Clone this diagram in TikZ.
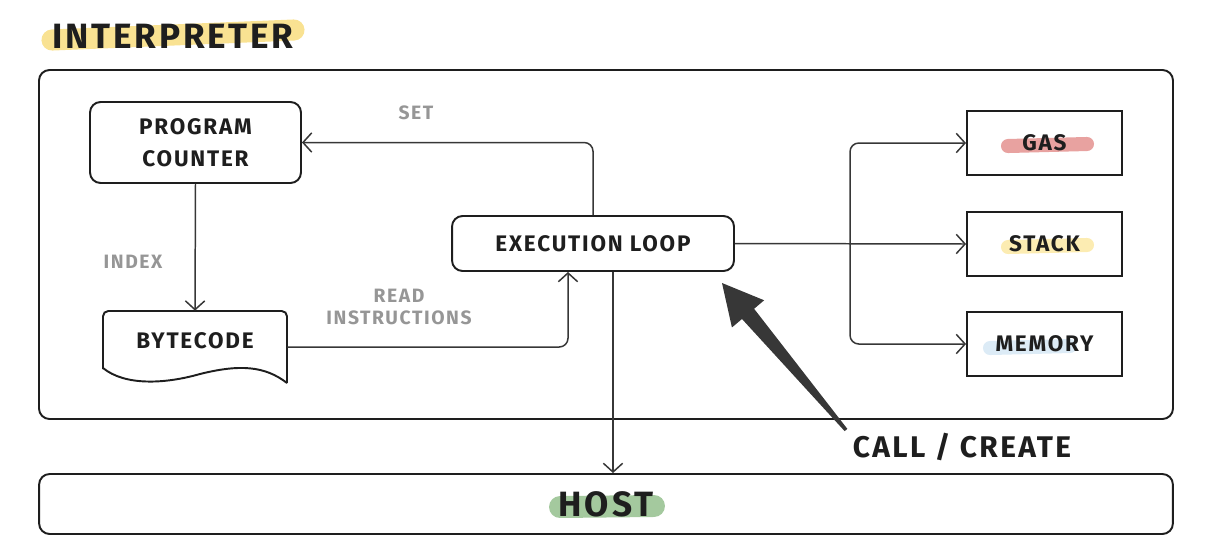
\documentclass[tikz,border=0pt]{standalone}
\usepackage{fontspec}
\usetikzlibrary{arrows.meta,calc}
\newfontfamily\handfont{Fira Sans}[LetterSpace=8]
\definecolor{inkdark}{RGB}{30,30,30}
\definecolor{linegray}{RGB}{55,55,55}
\definecolor{labelgray}{RGB}{150,150,150}
\definecolor{hlyellow}{RGB}{249,226,146}
\definecolor{hlyellowlight}{RGB}{252,236,178}
\definecolor{hlred}{RGB}{232,162,160}
\definecolor{hlblue}{RGB}{220,235,246}
\definecolor{hlgreen}{RGB}{164,201,158}
\tikzset{
  roundbox/.style={draw=inkdark, line width=1.1pt, rounded corners=6pt, align=center, inner sep=0pt},
  plainbox/.style={draw=inkdark, line width=1.1pt, inner sep=0pt, minimum width=3.1cm, minimum height=1.28cm},
  link/.style={draw=linegray, line width=0.85pt, -{Straight Barb[length=5pt,width=11pt]}},
  note/.style={text=labelgray, align=center, font=\handfont\bfseries\fontsize{11}{13}\selectfont},
  hl/.style={line width=#1, line cap=round}
}
\begin{document}
\begin{tikzpicture}[x=0.02cm, y=-0.02cm, font=\handfont\bfseries\fontsize{12.8}{18}\selectfont, text=inkdark]
    \useasboundingbox (0,0) rectangle (1210,555);
    % highlights
    \draw[hl=12pt, hlyellow] (52,40) -- (294,30);
    \draw[hl=8pt, hlred] (1008,146) -- (1087,144);
    \draw[hl=8pt, hlyellowlight] (1008,247) -- (1087,245);
    \draw[hl=8pt, hlblue] (990,348) -- (1070,346);
    \draw[hl=12.5pt, hlgreen] (560,507) -- (654,506);
    % title and frame
    \node (title) at (173,36) {\fontsize{20}{22}\selectfont INTERPRETER};
    \draw[draw=inkdark, line width=1.1pt, rounded corners=6pt] (39,70) rectangle (1173,419);
    % nodes
    \node[roundbox, minimum width=4.22cm, minimum height=1.62cm] (pc) at (195.5,142.5) {PROGRAM\\COUNTER};
    \node[inner sep=0pt, minimum width=3.68cm, minimum height=1.2cm] (bc) at (195,341) {BYTECODE};
    \draw[draw=inkdark, line width=1.1pt, rounded corners=3pt] (103,369) -- (103,311) -- (287,311) -- (287,383);
    \draw[draw=inkdark, line width=1.1pt] (287,383) .. controls (265,366) and (240,364) .. (200,374) .. controls (165,384) and (125,386) .. (103,368);
    \node[roundbox, minimum width=5.64cm, minimum height=1.1cm] (exec) at (593,243.5) {EXECUTION LOOP};
    \node[plainbox] (gas) at (1044.5,143) {GAS};
    \node[plainbox] (stack) at (1044.5,244) {STACK};
    \node[plainbox] (memory) at (1044.5,344) {MEMORY};
    \node[roundbox, minimum width=22.68cm, minimum height=1.2cm] (host) at (606,504) {\fontsize{20}{22}\selectfont HOST};
    % connectors
    \draw[link] (pc.south) -- (bc.north);
    \draw[link, rounded corners=5pt] ($(bc.east)+(0,6)$) -| ($(exec.south)+(-25,0)$);
    \draw[link, rounded corners=5pt] (exec.north) |- (pc.east);
    \coordinate (fork) at (850,243.5);
    \draw[link] (exec.east) -- (stack.west);
    \draw[link, rounded corners=5pt] (fork) |- (gas.west);
    \draw[link, rounded corners=5pt] (fork) |- (memory.west);
    \coordinate (drop) at ($(exec.south)+(20,0)$);
    \draw[link] (drop) -- (drop |- host.north);
    % labels
    \node[note] (setlbl) at (416,113) {SET};
    \node[note] (indexlbl) at (133,262) {INDEX};
    \node[note] (readlbl) at (399,307) {READ\\INSTRUCTIONS};
    \node (calllbl) at (962,447) {\fontsize{17}{20}\selectfont CALL / CREATE};
    % call / create arrow
    \coordinate (cctip) at (722,283);
    \coordinate (cctail) at (846,430);
    \coordinate (ccbase) at ($(cctip)!0.21!(cctail)$);
    \fill[linegray] (cctip) -- ($(ccbase)!12pt!90:(cctip)$) -- ($(ccbase)!4.5pt!90:(cctip)$)
        -- ($(cctail)!1pt!90:(cctip)$) -- ($(cctail)!1pt!-90:(cctip)$)
        -- ($(ccbase)!4.5pt!-90:(cctip)$) -- ($(ccbase)!12pt!-90:(cctip)$) -- cycle;
\end{tikzpicture}
\end{document}
